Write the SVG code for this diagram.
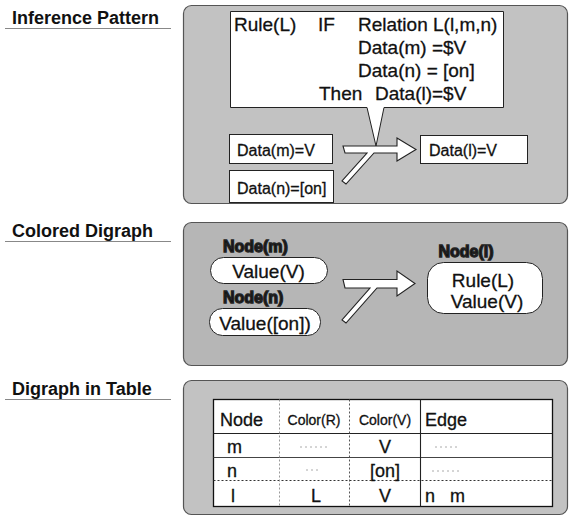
<svg xmlns="http://www.w3.org/2000/svg" width="571" height="517" viewBox="0 0 571 517">
<style>
.lbl{font-family:"Liberation Sans",Arial,sans-serif;font-weight:bold;font-size:18px;fill:#111}
.ul{stroke:#888;stroke-width:1.2}
.panel{fill:#c2c2c2;stroke:#555;stroke-width:1.2}
.box{fill:#fff;stroke:#222;stroke-width:1}
.t{font-family:"Liberation Sans",Arial,sans-serif;fill:#111;stroke:#111;stroke-width:0.3}
.big{font-size:19px}
.mid{font-size:16px}
.sm{font-size:14px}
.tb{font-size:18px}
.nl{font-family:"Liberation Sans",Arial,sans-serif;font-weight:bold;font-size:16px;fill:#111;stroke:#222;stroke-width:1.3}
.arrow{fill:#fff;stroke:#222;stroke-width:1.1;stroke-linejoin:miter}
.dl{stroke:#555;stroke-width:1;stroke-dasharray:2 2;fill:none}
.sl{stroke:#222;stroke-width:1.1;fill:none}
.faint{stroke:#aaa;stroke-width:1;stroke-dasharray:2 3;fill:none}
</style>

<!-- Section labels -->
<g id="label-inference">
<text class="lbl" x="12" y="24">Inference Pattern</text>
<line class="ul" x1="5" y1="28.5" x2="171" y2="28.5"/>
</g>
<g id="label-colored">
<text class="lbl" x="12" y="237">Colored Digraph</text>
<line class="ul" x1="5" y1="241.5" x2="171" y2="241.5"/>
</g>
<g id="label-table">
<text class="lbl" x="12" y="395">Digraph in Table</text>
<line class="ul" x1="5" y1="399.5" x2="171" y2="399.5"/>
</g>

<!-- Panels -->
<g id="panel-inference">
<rect class="panel" x="183.5" y="5.5" width="384" height="198" rx="8"/>
</g>
<g id="panel-colored">
<rect class="panel" x="183.5" y="222.5" width="384" height="143" rx="8" style="fill:#b6b6b6"/>
</g>
<g id="panel-table">
<rect class="panel" x="183.5" y="380.5" width="384" height="134" rx="8"/>
</g>

<!-- Rule bubble -->
<g id="rule-bubble">
<path class="box" d="M230.5,11.5 H503.5 V107.5 H384 L376,146 L367,107.5 H230.5 Z"/>
<text class="t big" x="234" y="31">Rule(L)</text>
<text class="t big" x="318" y="31">IF</text>
<text class="t big" x="358" y="31">Relation L(l,m,n)</text>
<text class="t big" x="358" y="54">Data(m) =$V</text>
<text class="t big" x="358" y="77">Data(n) = [on]</text>
<text class="t big" x="319" y="100">Then</text>
<text class="t big" x="375" y="100">Data(l)=$V</text>
</g>

<!-- Panel 1 nodes -->
<g id="data-m">
<rect class="box" x="229.5" y="134.5" width="103" height="29"/>
<text class="t mid" x="237" y="156">Data(m)=V</text>
</g>
<g id="data-n">
<rect class="box" x="229.5" y="170.5" width="104" height="32"/>
<text class="t mid" x="237" y="194">Data(n)=[on]</text>
</g>
<g id="data-l">
<rect class="box" x="420.5" y="135.5" width="107" height="28"/>
<text class="t mid" x="429" y="156">Data(l)=V</text>
</g>

<!-- Panel 2 nodes -->
<g id="node-m">
<text class="nl" x="223" y="252">Node(m)</text>
<rect class="box" x="210.5" y="257.5" width="117" height="26" rx="13"/>
<text class="t big" x="268.5" y="278" text-anchor="middle">Value(V)</text>
</g>
<g id="node-n">
<text class="nl" x="223" y="303">Node(n)</text>
<rect class="box" x="209.5" y="308.5" width="111" height="27" rx="13"/>
<text class="t big" x="265" y="330" text-anchor="middle">Value([on])</text>
</g>
<g id="node-l">
<text class="nl" x="466" y="257" text-anchor="middle">Node(l)</text>
<rect class="box" x="427.5" y="262.5" width="115" height="51" rx="16"/>
<text class="t big" x="483" y="287" text-anchor="middle">Rule(L)</text>
<text class="t big" x="487" y="308" text-anchor="middle">Value(V)</text>
</g>

<!-- Connectors -->
<g id="connectors">
<path class="arrow" d="M343,146 L397,146 L397,138 L416,149.5 L397,161 L397,153 L374,153 L346,184 L342,181 L367,153 L345,153 Z"/>
<path class="arrow" d="M343,279.5 L397,279.5 L397,271 L415,283.5 L397,296 L397,288 L377,288 L346,323 L342,320 L370,288 L345,288 Z"/>
</g>

<!-- Table -->
<g id="table">
<rect x="213.5" y="399.5" width="339" height="107" fill="#fff" stroke="#111" stroke-width="1.3"/>
<line class="sl" x1="213.5" y1="433.5" x2="552.5" y2="433.5"/>
<line class="sl" x1="213.5" y1="457.5" x2="552.5" y2="457.5" style="stroke:#444"/>
<line class="dl" x1="213.5" y1="480.5" x2="552.5" y2="480.5" style="stroke:#333"/>
<line class="dl" x1="279.5" y1="399.5" x2="279.5" y2="506.5" style="stroke:#999"/>
<line class="dl" x1="349.5" y1="399.5" x2="349.5" y2="506.5"/>
<line class="sl" x1="420.5" y1="399.5" x2="420.5" y2="506.5"/>
<line class="faint" x1="300" y1="447" x2="328" y2="447"/>
<line class="faint" x1="435" y1="447" x2="460" y2="447"/>
<line class="faint" x1="306" y1="470" x2="318" y2="470"/>
<line class="faint" x1="432" y1="471" x2="462" y2="471"/>
<text class="t tb" x="220" y="426">Node</text>
<text class="t sm" x="314" y="425" text-anchor="middle">Color(R)</text>
<text class="t sm" x="385" y="425" text-anchor="middle">Color(V)</text>
<text class="t tb" x="425" y="426">Edge</text>
<text class="t tb" x="227" y="453">m</text>
<text class="t tb" x="385" y="453" text-anchor="middle">V</text>
<text class="t tb" x="227" y="477">n</text>
<text class="t tb" x="385" y="477" text-anchor="middle">[on]</text>
<text class="t tb" x="231" y="502">l</text>
<text class="t tb" x="316" y="502" text-anchor="middle">L</text>
<text class="t tb" x="385" y="502" text-anchor="middle">V</text>
<text class="t tb" x="425" y="502" xml:space="preserve">n   m</text>
</g>
</svg>
